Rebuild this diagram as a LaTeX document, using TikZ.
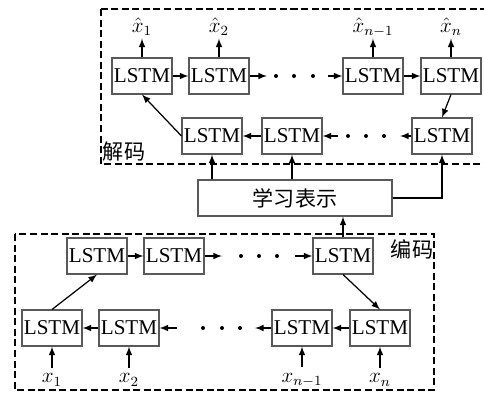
\documentclass[tikz,border=0pt]{standalone}
\usepackage{fontspec}
\setmainfont{Liberation Serif}
\newfontfamily\cjk{Noto Sans CJK SC}
\usetikzlibrary{arrows}

\begin{document}
\begin{tikzpicture}[x=0.02cm,y=-0.02cm,>=latex,
    lstm/.style={draw=gray!70!black,line width=0.6pt,minimum width=1.2cm,
        minimum height=0.72cm,inner sep=0pt,font=\fontsize{12}{14}\selectfont},
    area/.style={line width=0.9pt,dash pattern=on 4pt off 2pt},
    link/.style={->,line width=0.7pt},
    lbl/.style={inner sep=0pt,font=\fontsize{12}{14}\selectfont}]
    \useasboundingbox (0,0) rectangle (484,393);

    \draw[area] (101,9) rectangle (487,164);
    \draw[area] (15,234) rectangle (434,390);
    \node[lbl] (dec) at (124,152) {\cjk 解码};
    \node[lbl] (enc) at (412,249) {\cjk 编码};

    \node[lstm] (t1) at (142,76) {LSTM};
    \node[lstm] (t2) at (219,76) {LSTM};
    \node[lstm] (t3) at (373,76) {LSTM};
    \node[lstm] (t4) at (451,76) {LSTM};
    \node[lstm] (m1) at (212,136) {LSTM};
    \node[lstm] (m2) at (292,136) {LSTM};
    \node[lstm] (m3) at (442,136) {LSTM};
    \node[lstm,minimum width=3.88cm] (rep) at (295,198) {\cjk 学习表示};
    \node[lstm] (e1) at (97,256) {LSTM};
    \node[lstm] (e2) at (174,256) {LSTM};
    \node[lstm] (e3) at (343,256) {LSTM};
    \node[lstm] (b1) at (52,328) {LSTM};
    \node[lstm] (b2) at (129,328) {LSTM};
    \node[lstm] (b3) at (302,328) {LSTM};
    \node[lstm] (b4) at (380,328) {LSTM};

    \node[lbl] (y1) at (142,27) {$\hat{x}_1$};
    \node[lbl] (y2) at (219,27) {$\hat{x}_2$};
    \node[lbl] (y3) at (373,27) {$\hat{x}_{n-1}$};
    \node[lbl] (y4) at (451,27) {$\hat{x}_n$};
    \node[lbl] (x1) at (52,380) {$x_1$};
    \node[lbl] (x2) at (129,380) {$x_2$};
    \node[lbl] (x3) at (302,380) {$x_{n-1}$};
    \node[lbl] (x4) at (380,380) {$x_n$};

    \coordinate (p1) at (267,76);
    \coordinate (p2) at (328,76);
    \coordinate (p3) at (400,136);
    \coordinate (p4) at (338,136);
    \coordinate (p5) at (222,256);
    \coordinate (p6) at (295,256);
    \coordinate (p7) at (255,328);
    \coordinate (p8) at (177,328);
    \foreach \px/\py in {276/76,294/76,313/76,348/136,366/136,384/136,
        241/256,259/256,277/256,203/328,222/328,240/328}
        \fill (\px,\py) circle (0.04cm);

    \foreach \n in {1,2,3,4} {
        \draw[link] (t\n.north) -- ++(0,-19);
        \draw[link] (x\n.north) ++(0,-6) -- (b\n.south);
    }
    \draw[link] (t1) -- (t2);
    \draw[link] (t2) -- (p1);
    \draw[link] (p2) -- (t3);
    \draw[link] (t3) -- (t4);
    \draw[link] (t4.south) -- (m3.north);
    \draw[link] (m3) -- (p3);
    \draw[link] (p4) -- (m2);
    \draw[link] (m2) -- (m1);
    \draw[link] (m1.west) -- (t1.south);
    \draw[link] (rep.north -| m1) -- (m1.south);
    \draw[link] (rep.north -| m2) -- (m2.south);
    \draw[link] (rep.east) -| (m3.south);
    \draw[link] (e3.north) -- (rep.south -| e3);
    \draw[link] (b4) -- (b3);
    \draw[link] (b3) -- (p7);
    \draw[link] (p8) -- (b2);
    \draw[link] (b2) -- (b1);
    \draw[link] (b1.north) -- (e1.south);
    \draw[link] (e1) -- (e2);
    \draw[link] (e2) -- (p5);
    \draw[link] (p6) -- (e3);
    \draw[link] (e3.south) -- (b4.north);
\end{tikzpicture}
\end{document}
